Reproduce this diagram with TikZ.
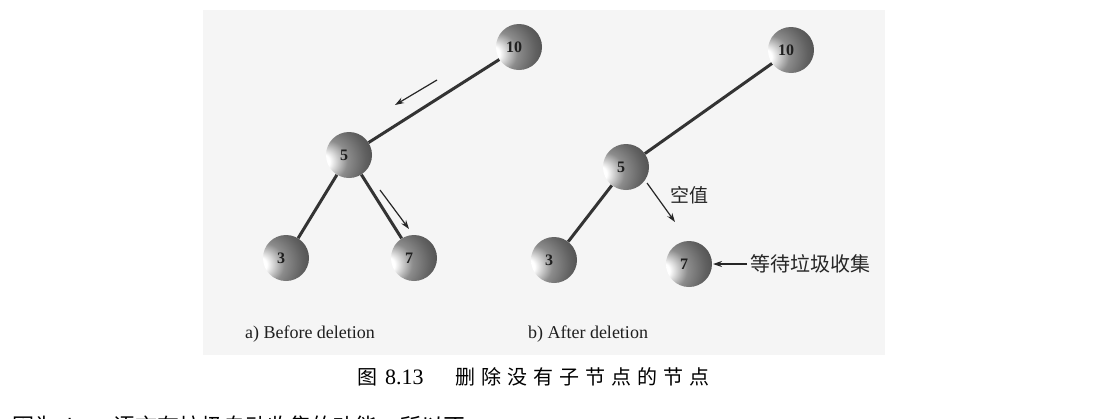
\documentclass[tikz,border=0pt]{standalone}
\usepackage{fontspec}
\setmainfont{Liberation Serif}
\newfontfamily\cjk{Noto Sans CJK SC}
\newfontfamily\cjkcap[LetterSpace=30]{Noto Sans CJK SC}
\usetikzlibrary{arrows.meta}
\pgfdeclareradialshading{sph}{\pgfpoint{-32bp}{-8bp}}{color(0bp)=(white); color(8bp)=(white); color(22bp)=(black!45); color(36bp)=(black!62); color(52bp)=(black!76); color(68bp)=(black!85); color(85bp)=(black!88)}
\pgfdeclarelayer{bg}
\pgfdeclarelayer{edges}
\pgfsetlayers{bg,edges,main}
\begin{document}
\begin{tikzpicture}[x=1pt,y=-1pt,
  sphere/.style={circle, minimum size=46pt, inner sep=0pt, shade, shading=sph},
  numlbl/.style={xshift=-5pt, font=\fontsize{16}{16}\selectfont\bfseries, text=black!88},
  treeedge/.style={line width=3pt, draw=black!80},
  hint/.style={line width=1.2pt, draw=black!85, -{Stealth[length=9pt,width=6pt]}},
  sublbl/.style={font=\fontsize{18}{18}\selectfont, text=black!88, anchor=base},
  cjklbl/.style={font=\cjk\fontsize{20}{20}\selectfont, text=black!85}]
\useasboundingbox (0,0) rectangle (1100,418);
\begin{pgfonlayer}{bg}
  \fill[white] (0,0) rectangle (1100,418);
  \fill[black!4] (203,10) rectangle (885,355);
\end{pgfonlayer}

% panel a
\node[sphere, label={[numlbl]center:10}] (a10) at (519,47) {};
\node[sphere, label={[numlbl]center:5}]  (a5)  at (349,155) {};
\node[sphere, label={[numlbl]center:3}]  (a3)  at (286,258) {};
\node[sphere, label={[numlbl]center:7}]  (a7)  at (414,258) {};
\begin{pgfonlayer}{edges}
  \draw[treeedge] (a10) -- (a5);
  \draw[treeedge] (a5) -- (a3);
  \draw[treeedge] (a5) -- (a7);
\end{pgfonlayer}
\coordinate (h1s) at (437,80);
\coordinate (h1e) at (395,105);
\coordinate (h2s) at (380,190);
\coordinate (h2e) at (409,229);
\draw[hint] (h1s) -- (h1e);
\draw[hint] (h2s) -- (h2e);
\node[sublbl] (la) at (310,338) {a) Before deletion};

% panel b
\node[sphere, label={[numlbl]center:10}] (b10) at (791,50) {};
\node[sphere, label={[numlbl]center:5}]  (b5)  at (626,167) {};
\node[sphere, label={[numlbl]center:3}]  (b3)  at (554,260) {};
\node[sphere, label={[numlbl]center:7}]  (b7)  at (689,264) {};
\begin{pgfonlayer}{edges}
  \draw[treeedge] (b10) -- (b5);
  \draw[treeedge] (b5) -- (b3);
\end{pgfonlayer}
\coordinate (h3s) at (647,183);
\coordinate (h3e) at (675,222);
\draw[hint] (h3s) -- (h3e);
\node[cjklbl, font=\cjk\fontsize{19}{19}\selectfont] (nul) at (689,195) {空值};
\node[cjklbl, anchor=west, inner sep=0pt] (gc) at (750,264) {等待垃圾收集};
\coordinate (g1) at (747,264);
\coordinate (g2) at (713,264);
\draw[hint] (g1) -- (g2);
\node[sublbl] (lb) at (588,338) {b) After deletion};

% caption
\node[anchor=west, inner sep=0pt, font=\cjk\fontsize{20}{20}\selectfont, text=black] (fig) at (357,377) {图};
\node[anchor=west, inner sep=0pt, font=\fontsize{22}{22}\selectfont, text=black] (num) at (385,377) {8.13};
\node[anchor=west, inner sep=0pt, font=\cjkcap\fontsize{20}{20}\selectfont, text=black] (cap) at (455,377) {删除没有子节点的节点};

% cut-off next line (only its top shows, as in the scan)
\begin{scope}
  \clip (0,0) rectangle (1100,418);
  \node[anchor=base west, inner sep=0pt, font=\cjk\fontsize{22}{22}\selectfont, text=black] (next) at (12,434) {因为 Java 语言有垃圾自动收集的功能，所以不};
\end{scope}
\end{tikzpicture}
\end{document}
